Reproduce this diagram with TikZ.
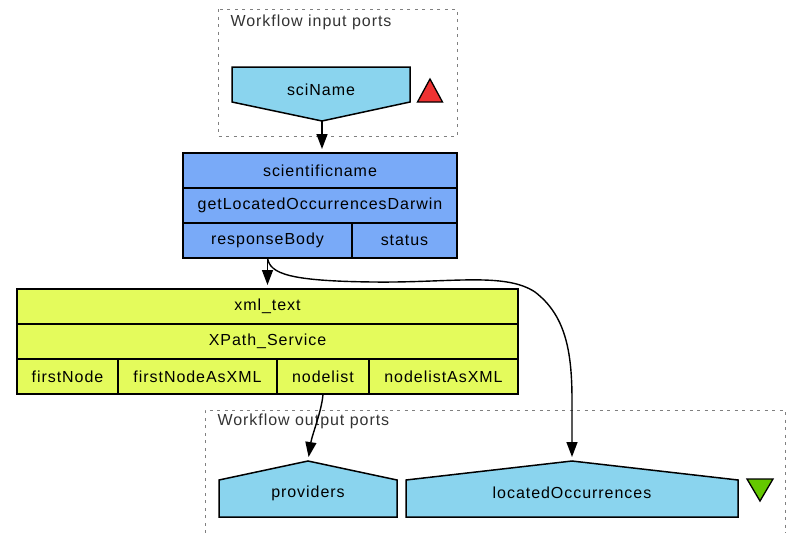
\documentclass[tikz,border=0pt]{standalone}
\usepackage{fontspec}
\setmainfont{Liberation Sans}[LetterSpace=6]
\usetikzlibrary{arrows.meta,positioning}
\definecolor{portblue}{RGB}{138,212,238}
\definecolor{servblue}{RGB}{121,170,248}
\definecolor{xpyellow}{RGB}{228,251,92}
\definecolor{inred}{RGB}{238,50,50}
\definecolor{outgreen}{RGB}{100,200,0}

\begin{document}
\begin{tikzpicture}[x=1pt,y=-1pt,>={Triangle[length=15pt,width=11pt]},
		every node/.style={font=\fontsize{16}{19}\selectfont},
		port node/.style={draw=black,fill=portblue,line width=1.5pt,line join=miter},
		cell node/.style={rectangle,draw=black,line width=1.5pt,inner sep=0pt,outer sep=0pt,minimum height=35pt},
		service node/.style={cell node,fill=servblue},
		xpath node/.style={cell node,fill=xpyellow},
		group box/.style={draw=black!50,dash pattern=on 3pt off 4.5pt,line width=1pt},
		group label/.style={anchor=west,text=black!80},
		link/.style={->,shorten >=4pt,line width=1.4pt}]

		\useasboundingbox (0,0) rectangle (788,533);

		% input ports
		\draw[group box] (218,9) rectangle (457,136);
		\node[group label] (inlbl) at (227,22) {Workflow input ports};
		\draw[port node] (232,67) -- (410,67) -- (410,102) -- (322,121) -- (232,102) -- cycle;
		\node (sciName) at (321,90) {sciName};
		\coordinate (sciName tip) at (322,121);
		\draw[fill=inred,line width=1.3pt] (417.5,102) -- (430,79) -- (442.5,102) -- cycle;

		% service
		\node[service node,minimum width=274pt] (sci) at (320,170.5) {scientificname};
		\node[service node,minimum width=274pt,below=0pt of sci] (get) {getLocatedOccurrencesDarwin};
		\node[service node,minimum width=169pt,anchor=north west] (rb) at (get.south west) {responseBody};
		\node[service node,minimum width=105pt,right=0pt of rb] (st) {status};

		% xpath
		\node[xpath node,minimum width=501pt] (xml) at (267.5,306.5) {xml\_text};
		\node[xpath node,minimum width=501pt,below=0pt of xml] (xp) {XPath\_Service};
		\node[xpath node,minimum width=101pt,anchor=north west] (fn) at (xp.south west) {firstNode};
		\node[xpath node,minimum width=159pt,right=0pt of fn] (fnx) {firstNodeAsXML};
		\node[xpath node,minimum width=92pt,right=0pt of fnx] (nl) {nodelist};
		\node[xpath node,minimum width=149pt,right=0pt of nl] (nlx) {nodelistAsXML};

		% output ports
		\draw[group box] (205,533) -- (205,410) -- (785,410) -- (785,533);
		\node[group label] (outlbl) at (214,421) {Workflow output ports};
		\draw[port node] (219,517) -- (219,480) -- (308,461) -- (397,480) -- (397,517) -- cycle;
		\node (prov) at (308,493) {providers};
		\coordinate (prov tip) at (308,461);
		\draw[port node] (406,517) -- (406,480) -- (572,461) -- (738,480) -- (738,517) -- cycle;
		\node (loc) at (572,493) {locatedOccurrences};
		\coordinate (loc tip) at (572,461);
		\draw[fill=outgreen,line width=1.3pt] (747,479) -- (773,479) -- (760,501) -- cycle;

		\draw[link] (sciName tip) -- (sciName tip |- sci.north);
		\draw[link] (rb.south) -- (rb.south |- xml.north);
		\draw[link] (rb.south) .. controls (270,274) and (290,281) .. (373,282)
			.. controls (450,283) and (505,272) .. (535,292)
			.. controls (565,315) and (572,350) .. (572,400) -- (loc tip);
		\draw[link] (nl.south) .. controls (322,410) and (312,435) .. (prov tip);
	\end{tikzpicture}
\end{document}
